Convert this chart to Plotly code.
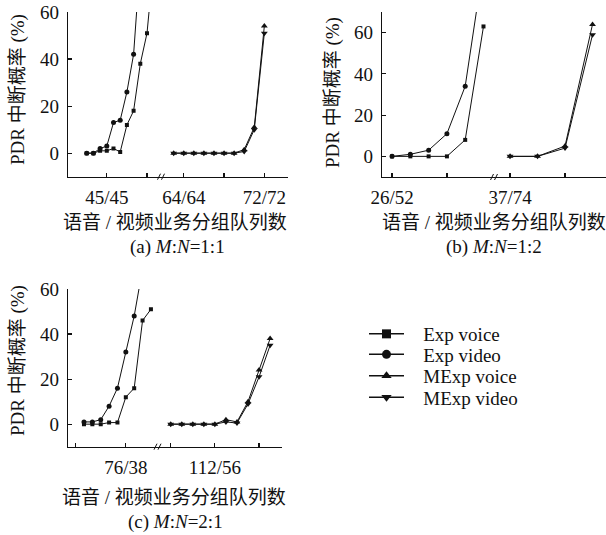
import plotly.graph_objects as go

W, H = 606, 535

# ---------------- data ----------------
# (a) M:N = 1:1
a_exp_video_x = [42, 43, 44, 45, 46, 47, 48, 49, 50]
a_exp_video_y = [0, 0, 2, 3, 13, 14, 26, 42, 82]
a_exp_voice_x = [42, 43, 44, 45, 46, 47, 48, 49, 50, 51, 52]
a_exp_voice_y = [0, 0, 1, 1, 2, 0.5, 12, 18, 38, 51, 81]
a_mexp_x = [63, 64, 65, 66, 67, 68, 69, 70, 71, 72]
a_mexp_voice_y = [0, 0, 0, 0, 0, 0, 0, 1.5, 11, 54]
a_mexp_video_y = [0, 0, 0, 0, 0, 0, 0, 0.7, 10, 51]
a_left_tickvals = [45, 51]
a_left_ticktext = ["45/45", ""]
a_right_tickvals = [64, 68, 72]
a_right_ticktext = ["64/64", "", "72/72"]

# (b) M:N = 1:2
b_exp_x = [26, 27, 28, 29, 30, 31]
b_exp_video_y = [0, 1, 3, 11, 34, 93]
b_exp_voice_y = [0, 0, 0, 0, 8, 63]
b_mexp_x = [37, 38, 39, 40]
b_mexp_voice_y = [0, 0, 5, 64]
b_mexp_video_y = [0, 0, 4, 59]
b_left_tickvals = [26, 29]
b_left_ticktext = ["26/52", ""]
b_right_tickvals = [37, 39]
b_right_ticktext = ["37/74", ""]

# (c) M:N = 2:1
c_exp_video_x = [71, 72, 73, 74, 75, 76, 77, 78]
c_exp_video_y = [1, 1, 2, 8, 16, 32, 48, 69]
c_exp_voice_x = [71, 72, 73, 74, 75, 76, 77, 78, 79]
c_exp_voice_y = [0, 0, 0, 0.7, 0.7, 12, 16, 46, 51]
c_mexp_x = [108, 109, 110, 111, 112, 113, 114, 115, 116, 117]
c_mexp_voice_y = [0, 0, 0, 0, 0, 2, 1, 10, 24, 38]
c_mexp_video_y = [0, 0, 0, 0, 0, 1, 0.5, 9, 21, 35]
c_left_tickvals = [70, 76]
c_left_ticktext = ["", "76/38"]
c_right_tickvals = [108, 112, 116]
c_right_ticktext = ["", "112/56", ""]

y_tickvals = [0, 20, 40, 60]

series_names = ["Exp voice", "Exp video", "MExp voice", "MExp video"]
series_symbols = ["square", "circle", "triangle-up", "triangle-down"]

x_title = "语音 / 视频业务分组队列数"
y_title = "PDR 中断概率 (%)"
sub_titles = ["(a) <i>M</i>:<i>N</i>=1:1", "(b) <i>M</i>:<i>N</i>=1:2", "(c) <i>M</i>:<i>N</i>=2:1"]

# ---------------- style ----------------
INK = "#111111"
FONT = "Liberation Serif, Noto Sans CJK SC, serif"
TICKFONT = dict(family=FONT, size=19, color=INK)


def px_x(p):
    return p / W


def px_y(p):
    return 1 - p / H


fig = go.Figure()


def add_series(x, y, sym, xa, ya, size=5):
    fig.add_trace(go.Scatter(
        x=x, y=y, mode="lines+markers", xaxis=xa, yaxis=ya,
        line=dict(color=INK, width=1),
        marker=dict(symbol=sym, size=size, color=INK),
        showlegend=False, cliponaxis=True,
    ))


# panel a
add_series(a_exp_voice_x, a_exp_voice_y, "square", "x", "y", 4)
add_series(a_exp_video_x, a_exp_video_y, "circle", "x", "y")
add_series(a_mexp_x, a_mexp_voice_y, "triangle-up", "x2", "y", 6)
add_series(a_mexp_x, a_mexp_video_y, "triangle-down", "x2", "y", 6)
# panel b
add_series(b_exp_x, b_exp_voice_y, "square", "x3", "y2", 4)
add_series(b_exp_x, b_exp_video_y, "circle", "x3", "y2")
add_series(b_mexp_x, b_mexp_voice_y, "triangle-up", "x4", "y2", 6)
add_series(b_mexp_x, b_mexp_video_y, "triangle-down", "x4", "y2", 6)
# panel c
add_series(c_exp_voice_x, c_exp_voice_y, "square", "x5", "y3", 4)
add_series(c_exp_video_x, c_exp_video_y, "circle", "x5", "y3")
add_series(c_mexp_x, c_mexp_voice_y, "triangle-up", "x6", "y3", 6)
add_series(c_mexp_x, c_mexp_video_y, "triangle-down", "x6", "y3", 6)

# legend entries (one legend per row so rows can be spaced like the reference)
legend_rows_px = [334, 354.5, 376, 397.5]
legend_ids = ["legend", "legend2", "legend3", "legend4"]
PAD = "\u00a0\u00a0\u00a0"
for name, sym, lid in zip(series_names, series_symbols, legend_ids):
    fig.add_trace(go.Scatter(
        x=[None], y=[None], mode="lines+markers", name=PAD + name,
        line=dict(color=INK, width=1.5),
        marker=dict(symbol=sym, size=9, color=INK),
        legend=lid, showlegend=True, xaxis="x", yaxis="y",
    ))

layout_legends = {}
for lid, row in zip(legend_ids, legend_rows_px):
    layout_legends[lid] = dict(
        x=px_x(364), y=px_y(row), xanchor="left", yanchor="middle",
        bgcolor="rgba(0,0,0,0)", borderwidth=0,
        font=dict(family=FONT, size=19, color=INK),
        itemwidth=35, tracegroupgap=0,
    )


def xaxis(dom_px, rng, tv, tt, anchor):
    return dict(
        domain=[px_x(dom_px[0]), px_x(dom_px[1])], range=rng, anchor=anchor,
        showline=True, linecolor=INK, linewidth=1.2, mirror=False,
        ticks="inside", ticklen=4, tickwidth=1.2, tickcolor=INK,
        tickvals=tv, ticktext=tt, tickfont=TICKFONT, ticklabelstandoff=3,
        showgrid=False, zeroline=False, fixedrange=True, automargin=False,
    )


def yaxis(dom_px, rng, anchor):
    return dict(
        domain=[px_y(dom_px[1]), px_y(dom_px[0])], range=rng, anchor=anchor,
        showline=True, linecolor=INK, linewidth=1.2,
        ticks="inside", ticklen=4, tickwidth=1.2, tickcolor=INK,
        tickvals=y_tickvals, tickfont=TICKFONT, ticklabelstandoff=4,
        showgrid=False, zeroline=False, fixedrange=True, automargin=False,
    )


layout = dict(
    width=W, height=H, autosize=False,
    margin=dict(l=0, r=0, t=0, b=0, pad=0, autoexpand=False),
    paper_bgcolor="white", plot_bgcolor="white",
    xaxis=xaxis((68, 160), [39.21, 52.94], a_left_tickvals, a_left_ticktext, "y"),
    xaxis2=xaxis((160, 288), [61.64, 74.35], a_right_tickvals, a_right_ticktext, "y"),
    yaxis=yaxis((12, 176.7), [-10, 60], "x"),
    xaxis3=xaxis((382, 493), [25.45, 31.52], b_left_tickvals, b_left_ticktext, "y2"),
    xaxis4=xaxis((493, 606), [36.38, 40.49], b_right_tickvals, b_right_ticktext, "y2"),
    yaxis2=yaxis((12, 177), [-10, 70], "x3"),
    xaxis5=xaxis((68, 156.7), [69.09, 79.69], c_left_tickvals, c_left_ticktext, "y3"),
    xaxis6=xaxis((156.7, 281.7), [106.73, 118.05], c_right_tickvals, c_right_ticktext, "y3"),
    yaxis3=yaxis((289, 446.7), [-10, 60], "x5"),
)
layout.update(layout_legends)
fig.update_layout(**layout)

# axis-break marks "//"
shapes = []
for bx, by in [(161, 176.7), (494, 177), (157.5, 446.7)]:
    for dx in (-3.5, 0.5):
        shapes.append(dict(type="line", xref="paper", yref="paper",
                           x0=px_x(bx + dx), y0=px_y(by + 3),
                           x1=px_x(bx + dx + 3), y1=px_y(by - 3),
                           line=dict(color=INK, width=1)))
fig.update_layout(shapes=shapes)

TITLEFONT = dict(family=FONT, size=19, color=INK)
ann = []
for cx, cy in [(18, 90), (333, 93), (18, 361)]:
    ann.append(dict(text=y_title, x=px_x(cx), y=px_y(cy), xref="paper", yref="paper",
                    textangle=-90, showarrow=False, xanchor="center", yanchor="middle",
                    font=TITLEFONT))
for cx, cy in [(175, 222), (494, 222), (174, 497)]:
    ann.append(dict(text=x_title, x=px_x(cx), y=px_y(cy), xref="paper", yref="paper",
                    showarrow=False, xanchor="center", yanchor="middle", font=TITLEFONT))
for t, (cx, cy) in zip(sub_titles, [(177, 247), (494, 247), (175, 522)]):
    ann.append(dict(text=t, x=px_x(cx), y=px_y(cy), xref="paper", yref="paper",
                    showarrow=False, xanchor="center", yanchor="middle", font=TITLEFONT))
fig.update_layout(annotations=ann)

fig.write_html("out.html",
               config={"displayModeBar": False, "staticPlot": True},
               post_script="document.body.style.margin='0';document.body.style.overflow='hidden';")
